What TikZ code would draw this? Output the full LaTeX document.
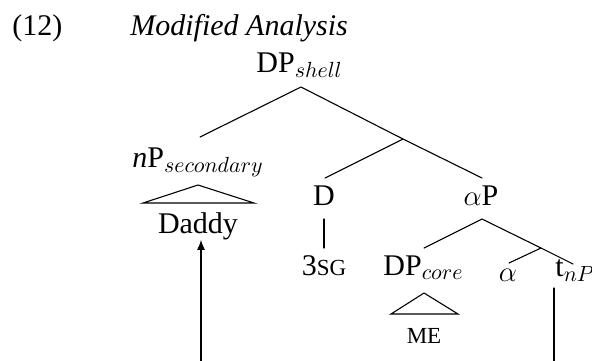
\documentclass[tikz,border=0pt]{standalone}
\usepackage{fontspec}
\setmainfont{Liberation Serif}
\usetikzlibrary{arrows.meta}
\newcommand{\fakesc}[1]{{\fontsize{11.5}{13}\selectfont #1}}
\begin{document}
\begin{tikzpicture}[x=0.5pt,y=-0.5pt,
  lbl/.style={inner sep=0pt, anchor=base, font=\fontsize{15}{18}\selectfont},
  edge/.style={line width=0.55pt, line cap=round},
  tri/.style={line width=0.55pt, line join=miter}]
\useasboundingbox (0,0) rectangle (592,360);
% labels
\node[lbl, anchor=base west] (num) at (12,35) {(12)};
\node[lbl, anchor=base west] (title) at (130,35) {\itshape Modified Analysis};
\node[lbl, anchor=base west] (dpshell) at (256,72) {DP$_{shell}$};
\node[lbl, anchor=base west] (np) at (132,167) {\textit{n}P$_{secondary}$};
\node[lbl] (daddy) at (198,233) {Daddy};
\node[lbl] (d) at (324,205) {D};
\node[lbl] (sg) at (324,275) {3\fakesc{SG}};
\node[lbl] (ap) at (481,205) {$\alpha$P};
\node[lbl, anchor=base west] (dpcore) at (383,275) {DP$_{core}$};
\node[lbl] (alpha) at (508,281) {$\alpha$};
\node[lbl, anchor=base west] (tnp) at (555,276) {t$_{nP}$};
\node[lbl] (me) at (424,343) {\fakesc{ME}};
% branch points
\coordinate (r0) at (301,87);
\coordinate (npTop) at (200,137);
\coordinate (mid) at (403,139);
\coordinate (dTop) at (325,178);
\coordinate (apTop) at (482,178);
\coordinate (dBot) at (324,219);
\coordinate (sgTop) at (324,248);
\coordinate (apBot) at (482,219);
\coordinate (coreTop) at (424,248);
\coordinate (mid2) at (541,248);
\coordinate (alphaTop) at (509,263);
\coordinate (tTop) at (573,264);
% edges
\draw[edge] (npTop) -- (r0) -- (mid);
\draw[edge] (dTop) -- (mid) -- (apTop);
\draw[edge] (dBot) -- (sgTop);
\draw[edge] (coreTop) -- (apBot) -- (mid2);
\draw[edge] (alphaTop) -- (mid2) -- (tTop);
% triangles
\coordinate (triA) at (198,185);
\coordinate (triAl) at (143,203);
\coordinate (triAr) at (254,203);
\draw[tri] (triAl) -- (triA) -- (triAr) -- cycle;
\coordinate (triB) at (424,293);
\coordinate (triBl) at (391,314);
\coordinate (triBr) at (458,314);
\draw[tri] (triBl) -- (triB) -- (triBr) -- cycle;
% movement arrow
\coordinate (tfoot) at (554,288);
\coordinate (turnA) at (554,400);
\coordinate (turnB) at (201,400);
\begin{scope}
\clip (0,0) rectangle (592,360);
\draw[edge, -{Latex[length=5pt,width=4pt]}] (tfoot) -- (turnA) -- (turnB) -- (daddy.south -| turnB);
\end{scope}
\end{tikzpicture}
\end{document}
